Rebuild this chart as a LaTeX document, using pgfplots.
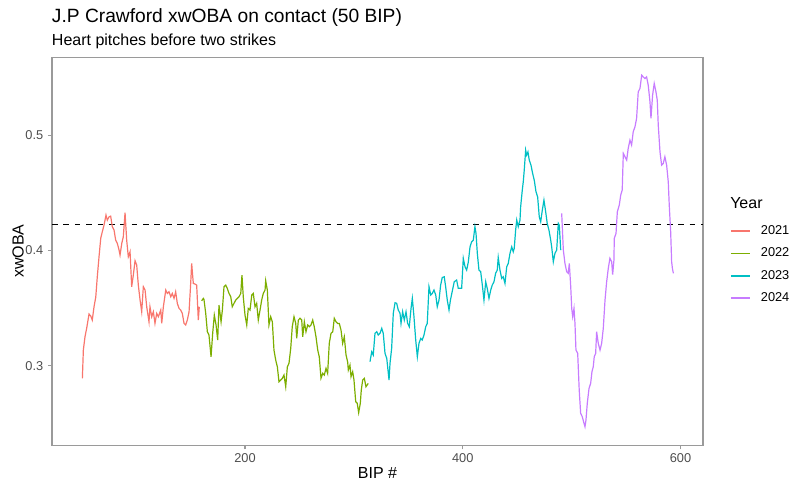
\documentclass[border=0pt]{standalone}
\usepackage{fontspec}
\setmainfont{Liberation Sans}
\usepackage{pgfplots}
\pgfplotsset{compat=1.18}
\definecolor{c21}{HTML}{F8766D}
\definecolor{c22}{HTML}{7CAE00}
\definecolor{c23}{HTML}{00BFC4}
\definecolor{c24}{HTML}{C77CFF}
\definecolor{bordergray}{HTML}{9A9A9A}
\definecolor{ticktext}{HTML}{4D4D4D}
\begin{document}
\begin{tikzpicture}[x=0.75pt,y=0.75pt]
\path[use as bounding box] (0,0) rectangle (804,492);
\begin{axis}[
  at={(39pt,35pt)}, anchor=south west,
  scale only axis, width=488.25pt, height=291.2pt,
  xmin=22.7, xmax=620.7, ymin=0.231, ymax=0.5676,
  axis line style={bordergray, line width=0.8pt},
  tick style={bordergray, line width=0.8pt},
  tick align=outside, major tick length=3pt,
  tick pos=left,
  xtick={200,400,600}, ytick={0.3,0.4,0.5},
  scaled ticks=false,
  /pgf/number format/assume math mode=true,
  ticklabel style={font=\fontsize{9.6}{11}\selectfont, text=ticktext},
  yticklabel style={/pgf/number format/.cd, fixed, fixed zerofill, precision=1},
  xlabel={BIP \#},
  xlabel style={at={(axis description cs:0.5,-0.0713)}, anchor=center, font=\fontsize{12}{14}\selectfont},
  ylabel={xwOBA},
  ylabel style={at={(axis description cs:-0.0522,0.5)}, anchor=center, font=\fontsize{12}{14}\selectfont},
  legend style={at={(axis description cs:1.0415,0.5653)}, anchor=north west, draw=none, fill=none,
    inner sep=0pt, outer sep=0pt, row sep=8.45pt, font=\fontsize{9.6}{11}\selectfont,
    nodes={inner sep=0pt, anchor=west},
    /tikz/every odd column/.append style={column sep=7.5pt}},
  legend cell align=left,
  legend image code/.code={\draw[#1, line width=1.4pt] (0pt,0pt) -- (14.25pt,0pt);},
]
\addplot[black, line width=0.85pt, dash pattern=on 4.27pt off 4.27pt, forget plot] coordinates {(22.7,0.4225) (620.7,0.4225)};
% 2021
\addplot[c21, line width=0.9pt] coordinates {
(50.6,0.2891)(51.5,0.3136)(53.0,0.3251)(54.6,0.3327)(56.7,0.3448)(58.3,0.3431)(59.7,0.3396)(61.3,0.3511)
(62.9,0.3595)(64.3,0.3771)(65.9,0.3945)(67.5,0.4107)(68.9,0.4161)(70.5,0.4219)(72.3,0.4306)(73.5,0.4262)
(75.1,0.4291)(76.6,0.4297)(78.1,0.4205)(79.7,0.4176)(81.2,0.4089)(82.7,0.4061)(84.3,0.4003)(85.2,0.3959)
(86.8,0.4061)(88.2,0.4118)(89.8,0.4326)(91.3,0.4089)(92.8,0.3945)(94.4,0.3988)(95.9,0.3685)(97.4,0.3786)
(99.0,0.3910)(100.5,0.3873)(102.0,0.3699)(103.6,0.3569)(105.1,0.3468)(106.6,0.3685)(108.2,0.3656)(109.7,0.3511)
(111.8,0.3381)(112.7,0.3511)(114.3,0.3425)(115.8,0.3468)(117.3,0.3367)(118.9,0.3454)(120.4,0.3425)(122.6,0.3483)
(123.5,0.3367)(125.0,0.3511)(127.2,0.3656)(128.6,0.3627)(130.2,0.3641)(131.8,0.3598)(133.2,0.3627)(134.8,0.3584)
(136.3,0.3641)(137.8,0.3541)(139.4,0.3497)(140.9,0.3483)(142.4,0.3454)(144.0,0.3367)(145.5,0.3353)(147.0,0.3396)
(148.6,0.3468)(150.1,0.3714)(151.0,0.3887)(152.5,0.3714)(154.1,0.3708)(155.6,0.3699)(157.1,0.3396)(158.0,0.3511)
};
\addlegendentry{2021}
% 2022
\addplot[c22, line width=0.9pt] coordinates {
(160.2,0.3563)(161.7,0.3584)(162.3,0.3575)(163.9,0.3454)(165.4,0.3295)(166.9,0.3266)(168.8,0.3078)(170.3,0.3281)
(171.8,0.3439)(173.4,0.3353)(174.9,0.3223)(176.1,0.3526)(178.0,0.3381)(179.2,0.3483)(180.7,0.3685)(182.3,0.3699)
(183.7,0.3671)(185.3,0.3627)(186.9,0.3598)(188.3,0.3511)(189.9,0.3541)(191.5,0.3569)(192.9,0.3584)(194.5,0.3598)
(196.1,0.3627)(197.2,0.3786)(198.4,0.3598)(200.0,0.3439)(201.6,0.3353)(203.0,0.3497)(204.6,0.3483)(206.2,0.3613)
(207.6,0.3627)(209.2,0.3511)(210.7,0.3541)(212.2,0.3396)(213.8,0.3483)(215.3,0.3569)(216.8,0.3627)(218.4,0.3656)
(219.0,0.3737)(220.5,0.3656)(222.0,0.3353)(223.6,0.3425)(225.1,0.3381)(226.6,0.3136)(228.2,0.3049)(229.7,0.2991)
(231.2,0.2861)(232.8,0.2876)(234.3,0.2891)(235.8,0.2919)(237.4,0.2818)(238.9,0.2991)(240.4,0.3021)(242.0,0.3151)
(243.4,0.3338)(245.0,0.3425)(246.6,0.3367)(247.5,0.3237)(249.0,0.3396)(250.5,0.3411)(252.1,0.3396)(253.0,0.3251)
(254.5,0.3381)(256.0,0.3295)(257.6,0.3353)(259.1,0.3338)(260.6,0.3353)(262.2,0.3396)(263.6,0.3338)(265.2,0.3251)
(266.8,0.3136)(268.2,0.3078)(269.8,0.2891)(271.4,0.2934)(272.8,0.2919)(274.4,0.2977)(275.9,0.2934)(277.4,0.3194)
(279.0,0.3281)(280.6,0.3295)(282.0,0.3411)(283.6,0.3381)(285.1,0.3367)(286.6,0.3367)(288.2,0.3309)(289.7,0.3194)
(291.2,0.3251)(292.8,0.3093)(294.3,0.3032)(294.9,0.2963)(296.4,0.3006)(297.4,0.2905)(298.9,0.2948)(300.1,0.2876)
(301.7,0.2688)(303.1,0.2674)(304.4,0.2593)(305.9,0.2674)(306.8,0.2789)(308.1,0.2876)(309.6,0.2891)(311.1,0.2818)
(313.2,0.2847)
};
\addlegendentry{2022}
% 2023
\addplot[c23, line width=0.9pt] coordinates {
(314.8,0.3035)(316.4,0.3121)(317.8,0.3093)(319.4,0.3281)(321.0,0.3295)(322.4,0.3266)(324.0,0.3281)(325.6,0.3324)
(327.0,0.3281)(328.6,0.3107)(330.2,0.3064)(332.3,0.2876)(333.2,0.3021)(334.7,0.3151)(336.2,0.3454)(337.8,0.3546)
(339.3,0.3541)(340.8,0.3483)(342.4,0.3454)(343.3,0.3367)(344.8,0.3468)(346.3,0.3396)(347.9,0.3468)(349.4,0.3367)
(350.9,0.3338)(352.5,0.3497)(353.7,0.3584)(355.2,0.3425)(356.8,0.3223)(358.3,0.3078)(359.8,0.3194)(361.4,0.3237)
(362.8,0.3223)(364.4,0.3266)(366.0,0.3338)(367.4,0.3367)(369.0,0.3685)(370.6,0.3613)(372.0,0.3627)(373.6,0.3656)
(375.2,0.3613)(376.6,0.3511)(378.2,0.3569)(379.7,0.3699)(381.2,0.3765)(383.0,0.3771)(384.3,0.3685)(385.8,0.3569)
(387.4,0.3483)(388.7,0.3569)(390.6,0.3656)(392.2,0.3728)(394.4,0.3743)(395.9,0.3671)(399.0,0.3671)(400.5,0.3931)
(402.1,0.3858)(403.6,0.3829)(405.1,0.3898)(406.7,0.4031)(408.2,0.4075)(409.7,0.4089)(411.2,0.4205)(412.2,0.4147)
(413.4,0.3974)(414.9,0.3829)(416.5,0.3815)(418.0,0.3699)(419.5,0.3569)(421.1,0.3728)(422.5,0.3671)(424.1,0.3584)
(425.7,0.3656)(427.1,0.3699)(428.7,0.3728)(430.2,0.3801)(431.7,0.3829)(432.6,0.3939)(434.2,0.3829)(435.8,0.3757)
(437.2,0.3771)(438.8,0.3714)(440.4,0.3858)(441.8,0.3887)(443.4,0.3974)(445.0,0.4031)(446.4,0.3988)(447.3,0.4017)
(448.6,0.4176)(449.6,0.4263)(451.0,0.4205)(452.6,0.4263)(453.2,0.4378)(454.7,0.4523)(455.6,0.4594)(456.5,0.4696)
(457.8,0.4869)(458.7,0.4826)(459.9,0.4854)(461.1,0.4783)(462.7,0.4739)(464.2,0.4667)(465.7,0.4609)(467.3,0.4508)
(468.8,0.4464)(470.3,0.4291)(471.6,0.4248)(473.1,0.4349)(474.6,0.4436)(476.2,0.4334)(477.6,0.4234)(479.2,0.4176)
(480.8,0.4089)(481.7,0.4031)(483.2,0.3901)(484.7,0.3974)(486.3,0.4003)(487.8,0.4234)(488.7,0.4219)(490.0,0.4003)
};
\addlegendentry{2023}
% 2024
\addplot[c24, line width=0.9pt] coordinates {
(490.9,0.4321)(492.4,0.4003)(493.9,0.3887)(495.5,0.3815)(496.9,0.3801)(497.9,0.3887)(499.2,0.3685)(500.1,0.3497)
(501.0,0.3425)(502.2,0.3497)(503.1,0.3367)(504.0,0.3136)(505.6,0.3107)(507.0,0.2789)(508.3,0.2588)(509.8,0.2558)
(511.4,0.2501)(512.3,0.2471)(513.2,0.2529)(514.4,0.2674)(516.0,0.2804)(517.5,0.2847)(518.7,0.2948)(519.9,0.2991)
(520.8,0.3078)(522.1,0.3107)(523.0,0.3295)(524.5,0.3194)(526.1,0.3136)(527.6,0.3194)(529.1,0.3324)(530.7,0.3569)
(532.2,0.3728)(533.7,0.3844)(535.2,0.3931)(536.8,0.3902)(537.7,0.3790)(538.9,0.3916)(539.2,0.4104)(540.8,0.4147)
(542.0,0.4334)(543.8,0.4393)(545.1,0.4479)(546.5,0.4523)(547.5,0.4841)(549.0,0.4812)(550.6,0.4783)(552.0,0.4884)
(553.6,0.4956)(555.1,0.4913)(556.6,0.5028)(558.2,0.5071)(559.7,0.5144)(561.2,0.5374)(562.8,0.5404)(564.4,0.5519)
(565.8,0.5504)(567.4,0.5490)(568.9,0.5504)(570.4,0.5432)(572.0,0.5288)(572.9,0.5144)(574.4,0.5346)(575.9,0.5447)
(577.5,0.5374)(578.7,0.5302)(579.6,0.5086)(581.2,0.4854)(582.7,0.4739)(584.2,0.4754)(585.7,0.4811)(587.3,0.4739)
(588.8,0.4594)(589.7,0.4393)(591.0,0.4161)(591.9,0.3901)(592.6,0.3844)(593.5,0.3801)
};
\addlegendentry{2024}
\end{axis}
\node[anchor=base west, inner sep=0pt, font=\fontsize{14.4}{17}\selectfont] at (51.7,469.7) {J.P Crawford xwOBA on contact (50 BIP)};
\node[anchor=base west, inner sep=0pt, font=\fontsize{12}{14}\selectfont] at (51.7,446.3) {Heart pitches before two strikes};
\node[anchor=west, inner sep=0pt, font=\fontsize{12}{14}\selectfont] at (730,289) {Year};
\end{tikzpicture}
\end{document}
